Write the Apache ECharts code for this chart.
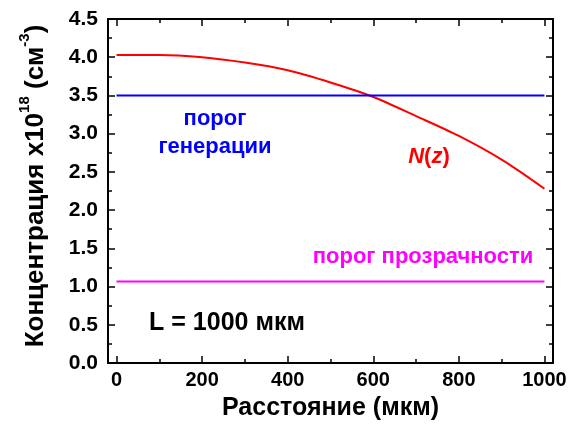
<!DOCTYPE html>
<html>
<head>
<meta charset="utf-8">
<script src="https://cdn.jsdelivr.net/npm/echarts@6/dist/echarts.min.js"></script>
<style>html,body{margin:0;padding:0;background:#fff;}#c{width:571px;height:429px;}</style>
</head>
<body>
<div id="c"></div>
<script>
// ---- data ----
const distance = [0, 100, 200, 300, 400, 500, 600, 700, 800, 900, 1000];
const concentration = [4.03, 4.03, 4.00, 3.93, 3.83, 3.67, 3.48, 3.23, 2.97, 2.66, 2.28];
const generationThreshold = 3.5;
const transparencyThreshold = 1.065;
const xMajorTicks = [0, 200, 400, 600, 800, 1000];
const xMinorTicks = [100, 300, 500, 700, 900];
const xTitle = 'Расстояние (мкм)';
const yTitle = '{a|Концентрация x10}{s|18}{a| (см}{s|-3}{a|)}';

const FONT = '"Liberation Sans", Arial, sans-serif';
const chart = echarts.init(document.getElementById('c'), null, {renderer: 'canvas'});

const grid = {left: 108, right: 18, top: 19, bottom: 66};
const lineStyle = {color: '#000', width: 2};

function xAxisDef(pos, ticks, len, showLabel, extra) {
  return Object.assign({
    type: 'value', position: pos, min: -20, max: 1020,
    axisLine: {show: true, onZero: false, lineStyle},
    axisTick: {show: true, inside: true, length: len, customValues: ticks, lineStyle: {color: '#000', width: 1.5}},
    axisLabel: showLabel ? {show: true, customValues: ticks, margin: 7, fontFamily: FONT, fontWeight: 'bold', fontSize: 20, color: '#000',
      formatter: v => String(v)} : {show: false},
    splitLine: {show: false}
  }, extra || {});
}
function yAxisDef(pos, showLabel, extra) {
  return Object.assign({
    type: 'value', position: pos, min: 0, max: 4.5, interval: 0.5,
    axisLine: {show: true, onZero: false, lineStyle},
    axisTick: {show: true, inside: true, length: 7, lineStyle: {color: '#000', width: 1.5}},
    minorTick: {show: true, splitNumber: 2, length: 4, lineStyle: {color: '#000', width: 1.5}},
    axisLabel: showLabel ? {show: true, margin: 10, fontFamily: FONT, fontWeight: 'bold', fontSize: 21, color: '#000',
      formatter: v => v.toFixed(1)} : {show: false},
    splitLine: {show: false}, minorSplitLine: {show: false}
  }, extra || {});
}

const option = {
  backgroundColor: '#fff',
  animation: false,
  grid,
  xAxis: [
    xAxisDef('bottom', xMajorTicks, 7, true, {
      name: xTitle, nameLocation: 'middle', nameGap: 33,
      nameTextStyle: {fontFamily: FONT, fontWeight: 'bold', fontSize: 25, color: '#000'}
    }),
    xAxisDef('bottom', xMinorTicks, 4, false),
    xAxisDef('top', xMajorTicks, 7, false),
    xAxisDef('top', xMinorTicks, 4, false)
  ],
  yAxis: [
    yAxisDef('left', true),
    yAxisDef('right', false)
  ],
  series: [
    {
      type: 'line', xAxisIndex: 0, yAxisIndex: 0,
      data: distance.map((d, i) => [d, concentration[i]]),
      smooth: 0.3, showSymbol: false,
      lineStyle: {color: '#FF0000', width: 2}
    },
    {
      type: 'line', xAxisIndex: 0, yAxisIndex: 0,
      data: [[distance[0], generationThreshold], [distance[distance.length - 1], generationThreshold]],
      showSymbol: false, lineStyle: {color: '#0000FF', width: 2}
    },
    {
      type: 'line', xAxisIndex: 0, yAxisIndex: 0,
      data: [[distance[0], transparencyThreshold], [distance[distance.length - 1], transparencyThreshold]],
      showSymbol: false, lineStyle: {color: '#FF00FF', width: 2}
    }
  ],
  graphic: [
    {type: 'text', x: 33, y: 186, rotation: Math.PI / 2, style: {
      text: yTitle, textAlign: 'center', textVerticalAlign: 'middle',
      rich: {
        a: {fill: '#000', fontFamily: FONT, fontWeight: 'bold', fontSize: 26, verticalAlign: 'bottom', lineHeight: 32},
        s: {fill: '#000', fontFamily: FONT, fontWeight: 'bold', fontSize: 15, verticalAlign: 'top', lineHeight: 32}
      }
    }},
    {type: 'text', x: 215, y: 119, style: {text: 'порог', fill: '#0000FF', font: 'bold 22px ' + FONT, textAlign: 'center', textVerticalAlign: 'middle'}},
    {type: 'text', x: 215, y: 147, style: {text: 'генерации', fill: '#0000FF', font: 'bold 22px ' + FONT, textAlign: 'center', textVerticalAlign: 'middle'}},
    {type: 'text', x: 429, y: 157, style: {
      text: '{i|N}{n|(}{i|z}{n|)}', textAlign: 'center', textVerticalAlign: 'middle',
      rich: {
        i: {fill: '#FF0000', fontFamily: FONT, fontWeight: 'bold', fontStyle: 'italic', fontSize: 22},
        n: {fill: '#FF0000', fontFamily: FONT, fontWeight: 'bold', fontSize: 22}
      }
    }},
    {type: 'text', x: 423, y: 257, style: {text: 'порог прозрачности', fill: '#FF00FF', font: 'bold 22px ' + FONT, textAlign: 'center', textVerticalAlign: 'middle'}},
    {type: 'text', x: 227, y: 323, style: {text: 'L = 1000 мкм', fill: '#000', font: 'bold 25px ' + FONT, textAlign: 'center', textVerticalAlign: 'middle'}}
  ]
};
chart.setOption(option);
</script>
</body>
</html>
